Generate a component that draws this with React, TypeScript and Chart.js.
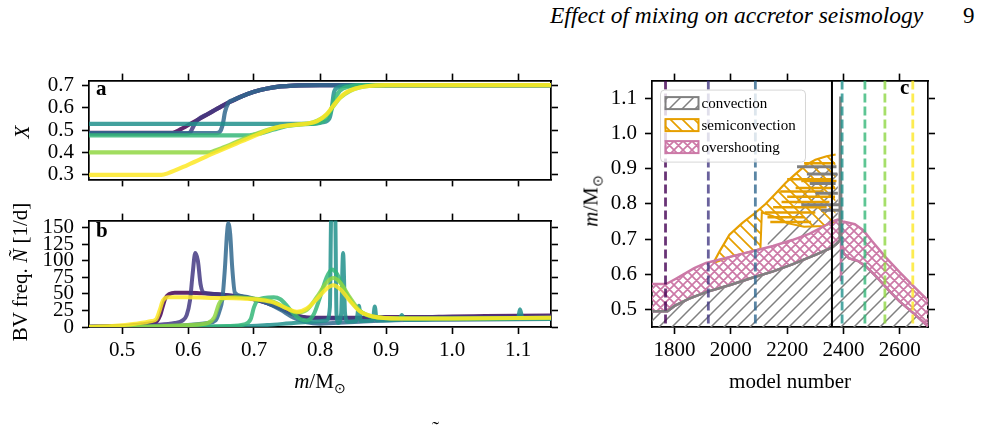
import React, { useEffect, useRef } from 'react';
import { Chart, registerables } from 'chart.js';

Chart.register(...registerables);

// ---------- tick values ----------
const MASS_TICKS = [0.5, 0.6, 0.7, 0.8, 0.9, 1.0, 1.1];
const HYDROGEN_TICKS = [0.3, 0.4, 0.5, 0.6, 0.7];
const BV_TICKS = [0, 25, 50, 75, 100, 125, 150];
const MODEL_TICKS = [1800, 2000, 2200, 2400, 2600];
const KIPP_MASS_TICKS = [0.5, 0.6, 0.7, 0.8, 0.9, 1.0, 1.1];

// ---------- panel a: hydrogen mass fraction X(m) for seven snapshots ----------
const X_PROFILE_1 = [[0.45, 0.487], [0.575, 0.487], [0.59, 0.505], [0.61, 0.538], [0.63, 0.571], [0.65, 0.604], [0.665, 0.627], [0.68, 0.648], [0.70, 0.67], [0.72, 0.685], [0.74, 0.694], [0.76, 0.698], [0.80, 0.70], [1.15, 0.70]];
const X_PROFILE_2 = [[0.45, 0.484], [0.598, 0.484], [0.604, 0.492], [0.608, 0.515], [0.613, 0.54], [0.63, 0.571], [0.65, 0.604], [0.665, 0.627], [0.68, 0.648], [0.70, 0.67], [0.72, 0.685], [0.74, 0.694], [0.76, 0.698], [0.80, 0.70], [1.15, 0.70]];
const X_PROFILE_3 = [[0.45, 0.486], [0.643, 0.486], [0.649, 0.495], [0.653, 0.53], [0.656, 0.58], [0.661, 0.62], [0.668, 0.633], [0.68, 0.648], [0.70, 0.67], [0.72, 0.685], [0.74, 0.694], [0.76, 0.698], [0.80, 0.70], [1.15, 0.70]];
const X_PROFILE_4 = [[0.45, 0.527], [0.79, 0.527], [0.805, 0.535], [0.814, 0.55], [0.818, 0.60], [0.821, 0.665], [0.826, 0.688], [0.84, 0.697], [0.87, 0.70], [1.15, 0.70]];
const X_PROFILE_5 = [[0.45, 0.476], [0.69, 0.476], [0.71, 0.485], [0.73, 0.502], [0.75, 0.518], [0.77, 0.525], [0.79, 0.528], [0.805, 0.54], [0.815, 0.575], [0.822, 0.635], [0.83, 0.675], [0.845, 0.694], [0.87, 0.70], [1.15, 0.70]];
const X_PROFILE_6 = [[0.45, 0.40], [0.63, 0.40], [0.65, 0.418], [0.68, 0.455], [0.71, 0.49], [0.74, 0.515], [0.77, 0.525], [0.79, 0.535], [0.81, 0.568], [0.82, 0.605], [0.83, 0.642], [0.845, 0.673], [0.86, 0.689], [0.88, 0.697], [0.92, 0.70], [1.15, 0.70]];
const X_PROFILE_7 = [[0.45, 0.30], [0.56, 0.30], [0.57, 0.308], [0.60, 0.345], [0.64, 0.398], [0.68, 0.448], [0.72, 0.497], [0.74, 0.515], [0.76, 0.523], [0.78, 0.528], [0.795, 0.538], [0.81, 0.57], [0.82, 0.608], [0.83, 0.643], [0.84, 0.668], [0.855, 0.686], [0.87, 0.695], [0.90, 0.70], [1.15, 0.70]];

// ---------- panel b: Brunt-Vaisala frequency N(m) in 1/d ----------
const N_PROFILE_1 = [[0.45, 0.5], [0.48, 1], [0.51, 2], [0.53, 4], [0.545, 6], [0.553, 9], [0.558, 18], [0.562, 32], [0.566, 44], [0.572, 50], [0.58, 52], [0.60, 52], [0.62, 51], [0.64, 50], [0.66, 48], [0.68, 46], [0.70, 42], [0.72, 36], [0.74, 28], [0.755, 21], [0.77, 16], [0.79, 14], [0.82, 14], [0.86, 14], [0.90, 15], [0.95, 15], [1.0, 16], [1.05, 16.5], [1.10, 17], [1.15, 17.5]];
const N_PROFILE_2 = [[0.45, 0.3], [0.50, 1], [0.55, 3], [0.58, 6], [0.592, 10], [0.598, 18], [0.603, 40], [0.607, 80], [0.611, 112], [0.615, 100], [0.619, 65], [0.624, 52], [0.64, 50], [0.66, 48], [0.68, 46], [0.70, 42], [0.72, 36], [0.74, 28], [0.76, 19], [0.78, 14], [0.82, 13], [0.90, 14], [1.0, 15], [1.15, 16]];
const N_PROFILE_3 = [[0.45, 0.2], [0.55, 1], [0.60, 3], [0.63, 6], [0.642, 10], [0.648, 25], [0.652, 42], [0.656, 90], [0.659, 140], [0.661, 157], [0.664, 140], [0.667, 90], [0.671, 52], [0.68, 47], [0.70, 43], [0.72, 36], [0.74, 26], [0.76, 14], [0.78, 7], [0.80, 5], [0.82, 6], [0.86, 8], [0.90, 10], [1.0, 11], [1.15, 12]];
const N_PROFILE_4 = [[0.45, 0], [0.60, 0.5], [0.68, 1], [0.72, 3], [0.76, 6], [0.79, 8], [0.81, 10], [0.815, 30], [0.817, 170], [0.823, 170], [0.825, 20], [0.828, 6], [0.832, 20], [0.835, 112], [0.838, 20], [0.842, 8], [0.855, 9], [0.859, 32], [0.862, 9], [0.88, 10], [0.883, 31], [0.886, 10], [0.92, 11], [0.924, 18], [0.928, 11], [1.0, 12], [1.1, 13], [1.103, 27], [1.107, 13], [1.15, 13]];
const N_PROFILE_5 = [[0.45, 0], [0.60, 0.5], [0.66, 1.5], [0.685, 4], [0.695, 12], [0.70, 30], [0.705, 40], [0.715, 44], [0.73, 45], [0.74, 42], [0.75, 32], [0.76, 20], [0.77, 12], [0.78, 10], [0.79, 18], [0.80, 45], [0.81, 75], [0.818, 87], [0.826, 80], [0.835, 60], [0.85, 35], [0.87, 18], [0.89, 14], [0.95, 13], [1.05, 13], [1.15, 13]];
const N_PROFILE_6 = [[0.45, 0], [0.55, 1], [0.60, 3], [0.63, 6], [0.64, 15], [0.647, 35], [0.653, 43], [0.67, 45], [0.69, 44], [0.71, 42], [0.73, 38], [0.75, 28], [0.765, 22], [0.78, 26], [0.795, 45], [0.81, 67], [0.82, 74], [0.83, 68], [0.845, 45], [0.86, 25], [0.88, 16], [0.92, 13], [1.0, 13], [1.15, 14]];
const N_PROFILE_7 = [[0.45, 0.5], [0.49, 2], [0.52, 5], [0.545, 9], [0.552, 12], [0.557, 25], [0.562, 40], [0.57, 45], [0.60, 45], [0.64, 44], [0.68, 43], [0.71, 41], [0.73, 37], [0.75, 28], [0.765, 23], [0.78, 28], [0.795, 42], [0.81, 58], [0.82, 63], [0.83, 58], [0.845, 40], [0.86, 24], [0.88, 16], [0.92, 13], [1.0, 13], [1.15, 14]];

// ---------- panel c: Kippenhahn diagram (model number vs m) ----------
const CONV_BOUNDARY = [[1720, 0.495], [1775, 0.495], [1800, 0.51], [1850, 0.53], [1912, 0.549], [2000, 0.57], [2076, 0.59], [2150, 0.608], [2218, 0.628], [2300, 0.655], [2360, 0.676], [2380, 0.69], [2390, 0.70], [2400, 0.66], [2420, 0.645], [2450, 0.638], [2480, 0.622], [2520, 0.59], [2560, 0.555], [2600, 0.522], [2650, 0.488], [2700, 0.452]];
const CONV_SPIKE = [[2386, 0.70], [2389, 1.105], [2392, 0.70]];
const CONV_SHELL_LOWER = [[2130, 0.683], [2218, 0.697], [2280, 0.715], [2337, 0.739], [2380, 0.755]];
const CONV_SHELL_UPPER = [[2130, 0.70], [2180, 0.75], [2230, 0.80], [2260, 0.86], [2290, 0.905], [2380, 0.905]];
const CONV_STREAKS = [[2235, 2375, 0.905], [2270, 2378, 0.885], [2280, 2372, 0.858], [2300, 2380, 0.83], [2250, 2385, 0.797], [2320, 2390, 0.782]];
const OVERSHOOT_TOP = [[1720, 0.572], [1770, 0.572], [1800, 0.585], [1829, 0.598], [1870, 0.617], [1912, 0.632], [2000, 0.65], [2076, 0.665], [2150, 0.68], [2218, 0.697], [2280, 0.715], [2337, 0.739], [2360, 0.75], [2380, 0.755], [2397, 0.75], [2410, 0.748], [2440, 0.742], [2470, 0.725], [2500, 0.695], [2550, 0.648], [2600, 0.605], [2650, 0.565], [2700, 0.525]];
const OVERSHOOT_SPIKE = [[2391, 0.58], [2391, 0.83]];
const SEMICONV_TOP = [[1938, 0.632], [1960, 0.665], [1995, 0.712], [2040, 0.745], [2089, 0.776], [2124, 0.80], [2160, 0.83], [2195, 0.86], [2230, 0.885], [2266, 0.91], [2300, 0.925], [2340, 0.935], [2372, 0.94]];
const SEMICONV_BOTTOM = [[1938, 0.632], [2000, 0.65], [2076, 0.665], [2105, 0.672], [2110, 0.775], [2150, 0.765], [2200, 0.745], [2260, 0.735], [2330, 0.737], [2372, 0.75]];
const SEMICONV_STREAKS = [[2120, 2300, 0.775], [2130, 2260, 0.762], [2140, 2285, 0.748], [2150, 2340, 0.79], [2180, 2350, 0.805], [2200, 2370, 0.82], [2175, 2330, 0.835], [2230, 2370, 0.845], [2200, 2360, 0.87], [2250, 2375, 0.865], [2260, 2370, 0.915]];

// snapshot model numbers (one per profile) and end of accretion
const SNAPSHOT_MODELS = [1768, 1920, 2087, 2395, 2476, 2547, 2646];
const ACCRETION_END_MODEL = 2359;
const MIXING_LABELS = ['convection', 'semiconvection', 'overshooting'];

// ---------- styling ----------
const SERIF = '"Liberation Serif", "Times New Roman", serif';
const VIRIDIS7 = ['#440154', '#443983', '#31688e', '#21918c', '#35b779', '#90d743', '#fde725'];
const GRAY = '#808080';
const ORANGE = '#e69f00';
const PINK = '#cc79a7';
const TICK_FONT = { family: SERIF, size: 21 };

function rgba(hex: string, a: number) {
  const n = parseInt(hex.slice(1), 16);
  return `rgba(${(n >> 16) & 255},${(n >> 8) & 255},${n & 255},${a})`;
}

function hatchPattern(color: string, dirs: string, size: number, lw: number) {
  const c = document.createElement('canvas');
  c.width = size;
  c.height = size;
  const g = c.getContext('2d')!;
  g.strokeStyle = color;
  g.lineWidth = lw;
  g.beginPath();
  if (dirs.includes('/')) {
    g.moveTo(0, size); g.lineTo(size, 0);
    g.moveTo(-size / 2, size / 2); g.lineTo(size / 2, -size / 2);
    g.moveTo(size / 2, size * 1.5); g.lineTo(size * 1.5, size / 2);
  }
  if (dirs.includes('\\')) {
    g.moveTo(0, 0); g.lineTo(size, size);
    g.moveTo(-size / 2, size / 2); g.lineTo(size / 2, size * 1.5);
    g.moveTo(size / 2, -size / 2); g.lineTo(size * 1.5, size / 2);
  }
  g.stroke();
  return g.createPattern(c, 'repeat')!;
}

function frameAxis(position: string, min: number, max: number, tickValues: number[], size: number, showLabels: boolean, fmt: (v: number) => string = (v) => String(v), padding = 8) {
  return {
    type: 'linear',
    position,
    min,
    max,
    afterBuildTicks: (s: any) => { s.ticks = tickValues.map((v) => ({ value: v })); },
    afterFit: (s: any) => {
      if (position === 'left' || position === 'right') s.width = size; else s.height = size;
    },
    ticks: { display: showLabels, autoSkip: false, maxRotation: 0, minRotation: 0, padding, color: '#000', font: TICK_FONT, callback: (v: any) => fmt(Number(v)) },
    grid: { display: true, drawOnChartArea: false, drawTicks: true, tickLength: 7, tickWidth: 1.6, tickColor: '#000' },
    border: { display: true, color: '#000', width: 1.7 },
  };
}

const baseOptions = {
  responsive: false,
  animation: false,
  devicePixelRatio: 1,
  events: [],
  layout: { padding: 0 },
  plugins: { legend: { display: false }, tooltip: { enabled: false } },
};

function profileDatasets(profiles: number[][][], width: number) {
  return profiles.map((p, i) => ({
    data: p,
    showLine: true,
    borderColor: rgba(VIRIDIS7[i], 0.85),
    borderWidth: width,
    pointRadius: 0,
    cubicInterpolationMode: 'monotone',
    order: profiles.length - i,
  }));
}

export default function App() {
  const refA = useRef<HTMLCanvasElement>(null);
  const refB = useRef<HTMLCanvasElement>(null);
  const refC = useRef<HTMLCanvasElement>(null);

  useEffect(() => {
    document.body.style.margin = '0';
    const charts: Chart[] = [];

    // panel a
    charts.push(new Chart(refA.current!, {
      type: 'scatter',
      data: { datasets: profileDatasets([X_PROFILE_1, X_PROFILE_2, X_PROFILE_3, X_PROFILE_4, X_PROFILE_5, X_PROFILE_6, X_PROFILE_7], 4.2) as any },
      options: {
        ...baseOptions,
        scales: {
          x: frameAxis('bottom', 0.45, 1.15, MASS_TICKS, 11, false),
          xTop: frameAxis('top', 0.45, 1.15, MASS_TICKS, 15, false),
          y: frameAxis('left', 0.28, 0.72, HYDROGEN_TICKS, 89, true, (v) => v.toFixed(1)),
          yRight: frameAxis('right', 0.28, 0.72, HYDROGEN_TICKS, 19, false),
        },
      } as any,
    }));

    // panel b
    charts.push(new Chart(refB.current!, {
      type: 'scatter',
      data: { datasets: profileDatasets([N_PROFILE_1, N_PROFILE_2, N_PROFILE_3, N_PROFILE_4, N_PROFILE_5, N_PROFILE_6, N_PROFILE_7], 4) as any },
      options: {
        ...baseOptions,
        scales: {
          x: frameAxis('bottom', 0.45, 1.15, MASS_TICKS, 43, true, (v) => v.toFixed(1), 4),
          xTop: frameAxis('top', 0.45, 1.15, MASS_TICKS, 14, false),
          y: frameAxis('left', 0, 161, BV_TICKS, 89, true, (v) => String(v)),
          yRight: frameAxis('right', 0, 161, BV_TICKS, 19, false),
        },
      } as any,
    }));

    // panel c
    const grayHatch = hatchPattern(GRAY, '/', 13, 1.5);
    const orangeHatch = hatchPattern(ORANGE, '\\', 12, 1.7);
    const pinkHatch = hatchPattern(PINK, '/\\', 9, 1.7);
    const C_YMIN = 0.45;
    const C_YMAX = 1.15;

    const ds: any[] = [];
    const line = (data: number[][], color: string, width: number, order: number, extra: any = {}) => {
      ds.push({ data, showLine: true, borderColor: color, borderWidth: width, pointRadius: 0, tension: 0, fill: false, order, ...extra });
      return ds.length - 1;
    };
    // convective core: hatched down to the axis
    line(CONV_BOUNDARY, GRAY, 2.5, 20, { fill: 'start', backgroundColor: grayHatch });
    // convective shells above the overshoot layer
    const shellLow = line(CONV_SHELL_LOWER, 'rgba(0,0,0,0)', 0, 19);
    line(CONV_SHELL_UPPER, 'rgba(0,0,0,0)', 0, 18, { fill: shellLow, backgroundColor: grayHatch });
    // semiconvection
    const semiLow = line(SEMICONV_BOTTOM, ORANGE, 2, 17);
    line(SEMICONV_TOP, ORANGE, 2.2, 16, { fill: semiLow, backgroundColor: orangeHatch });
    // overshooting
    const ovLow = line(CONV_BOUNDARY, PINK, 2.5, 15);
    line(OVERSHOOT_TOP, PINK, 2.5, 14, { fill: ovLow, backgroundColor: pinkHatch });
    line(OVERSHOOT_SPIKE, PINK, 2.5, 13);
    // streaks of layered mixing
    SEMICONV_STREAKS.forEach(([x0, x1, m]) => line([[x0, m], [x1, m]], ORANGE, 2.5, 12));
    CONV_STREAKS.forEach(([x0, x1, m]) => line([[x0, m], [x1, m]], GRAY, 3, 11));
    line(CONV_SPIKE, GRAY, 2.5, 10);
    line(CONV_BOUNDARY.filter((p) => p[0] <= 2392), GRAY, 2.5, 9);
    // snapshot markers
    SNAPSHOT_MODELS.forEach((mdl, i) => line([[mdl, C_YMAX], [mdl, C_YMIN]], rgba(VIRIDIS7[i], 0.8), 2.8, 3, { borderDash: [9, 4] }));
    line([[ACCRETION_END_MODEL, C_YMIN], [ACCRETION_END_MODEL, C_YMAX]], '#000', 2, 2);

    const patches = [grayHatch, orangeHatch, pinkHatch];
    const edges = [GRAY, ORANGE, PINK];
    const legendPlugin = {
      id: 'mixingLegend',
      afterDatasetsDraw(chart: any) {
        const { ctx, chartArea } = chart;
        const x0 = chartArea.left + 8.5;
        const y0 = chartArea.top + 9.5;
        const w = 145;
        const h = 72;
        ctx.save();
        ctx.beginPath();
        ctx.roundRect(x0, y0, w, h, 4);
        ctx.fillStyle = 'rgba(255,255,255,0.8)';
        ctx.fill();
        ctx.strokeStyle = 'rgba(204,204,204,0.8)';
        ctx.lineWidth = 1;
        ctx.stroke();
        MIXING_LABELS.forEach((label, i) => {
          const cy = y0 + 13 + i * 22;
          const px = x0 + 5;
          ctx.fillStyle = patches[i];
          ctx.fillRect(px, cy - 6, 33, 12);
          ctx.strokeStyle = edges[i];
          ctx.lineWidth = 2;
          ctx.strokeRect(px, cy - 6, 33, 12);
          ctx.fillStyle = '#000';
          ctx.font = `15px ${SERIF}`;
          ctx.textBaseline = 'middle';
          ctx.textAlign = 'left';
          ctx.fillText(label, px + 36, cy + 1);
        });
        ctx.restore();
      },
    };

    charts.push(new Chart(refC.current!, {
      type: 'scatter',
      data: { datasets: ds },
      options: {
        ...baseOptions,
        scales: {
          x: frameAxis('bottom', 1720, 2700, MODEL_TICKS, 43, true, (v) => String(v), 4),
          xTop: frameAxis('top', 1720, 2700, MODEL_TICKS, 16, false),
          y: frameAxis('left', C_YMIN, C_YMAX, KIPP_MASS_TICKS, 77, true, (v) => v.toFixed(1)),
          yRight: frameAxis('right', C_YMIN, C_YMAX, KIPP_MASS_TICKS, 55, false),
        },
      } as any,
      plugins: [legendPlugin],
    }));

    return () => charts.forEach((c) => c.destroy());
  }, []);

  const abs = (left: number, top: number, extra: any = {}): React.CSSProperties => ({
    position: 'absolute', left, top, whiteSpace: 'nowrap', lineHeight: 1, ...extra,
  });
  const centred = (cx: number, cy: number, rotate = 0, size = 21): React.CSSProperties =>
    abs(cx, cy, { fontSize: size, transform: `translate(-50%, -50%)${rotate ? ` rotate(${rotate}deg)` : ''}` });
  const sunSub = <span style={{ fontSize: 14, position: 'relative', top: 5 }}>⊙</span>;

  return (
    <div style={{ position: 'relative', width: 983, height: 429, background: '#fff', overflow: 'hidden', fontFamily: SERIF, color: '#000' }}>
      <div style={abs(550, 4, { fontSize: 23.5, fontStyle: 'italic' })}>Effect of mixing on accretor seismology</div>
      <div style={abs(963, 4, { fontSize: 23 })}>9</div>

      <canvas ref={refA} width={570} height={140} style={{ position: 'absolute', left: 0, top: 60, width: 570, height: 140 }} />
      <canvas ref={refB} width={570} height={170} style={{ position: 'absolute', left: 0, top: 200, width: 570, height: 170 }} />
      <canvas ref={refC} width={408} height={310} style={{ position: 'absolute', left: 575, top: 60, width: 408, height: 310 }} />

      <div style={abs(96, 78, { fontSize: 21, fontWeight: 'bold' })}>a</div>
      <div style={abs(96, 220, { fontSize: 21, fontWeight: 'bold' })}>b</div>
      <div style={abs(900, 77, { fontSize: 21, fontWeight: 'bold' })}>c</div>

      <div style={centred(22, 132, -90)}><i>X</i></div>
      <div style={centred(20, 272, -90)}>BV freq. <i>Ñ</i> [1/d]</div>
      <div style={centred(591, 201, -90)}><i>m</i>/M{sunSub}</div>

      <div style={centred(320, 381)}><i>m</i>/M{sunSub}</div>
      <div style={centred(790, 381)}>model number</div>

      <div style={abs(432, 419, { fontSize: 21 })}>˜</div>
    </div>
  );
}
